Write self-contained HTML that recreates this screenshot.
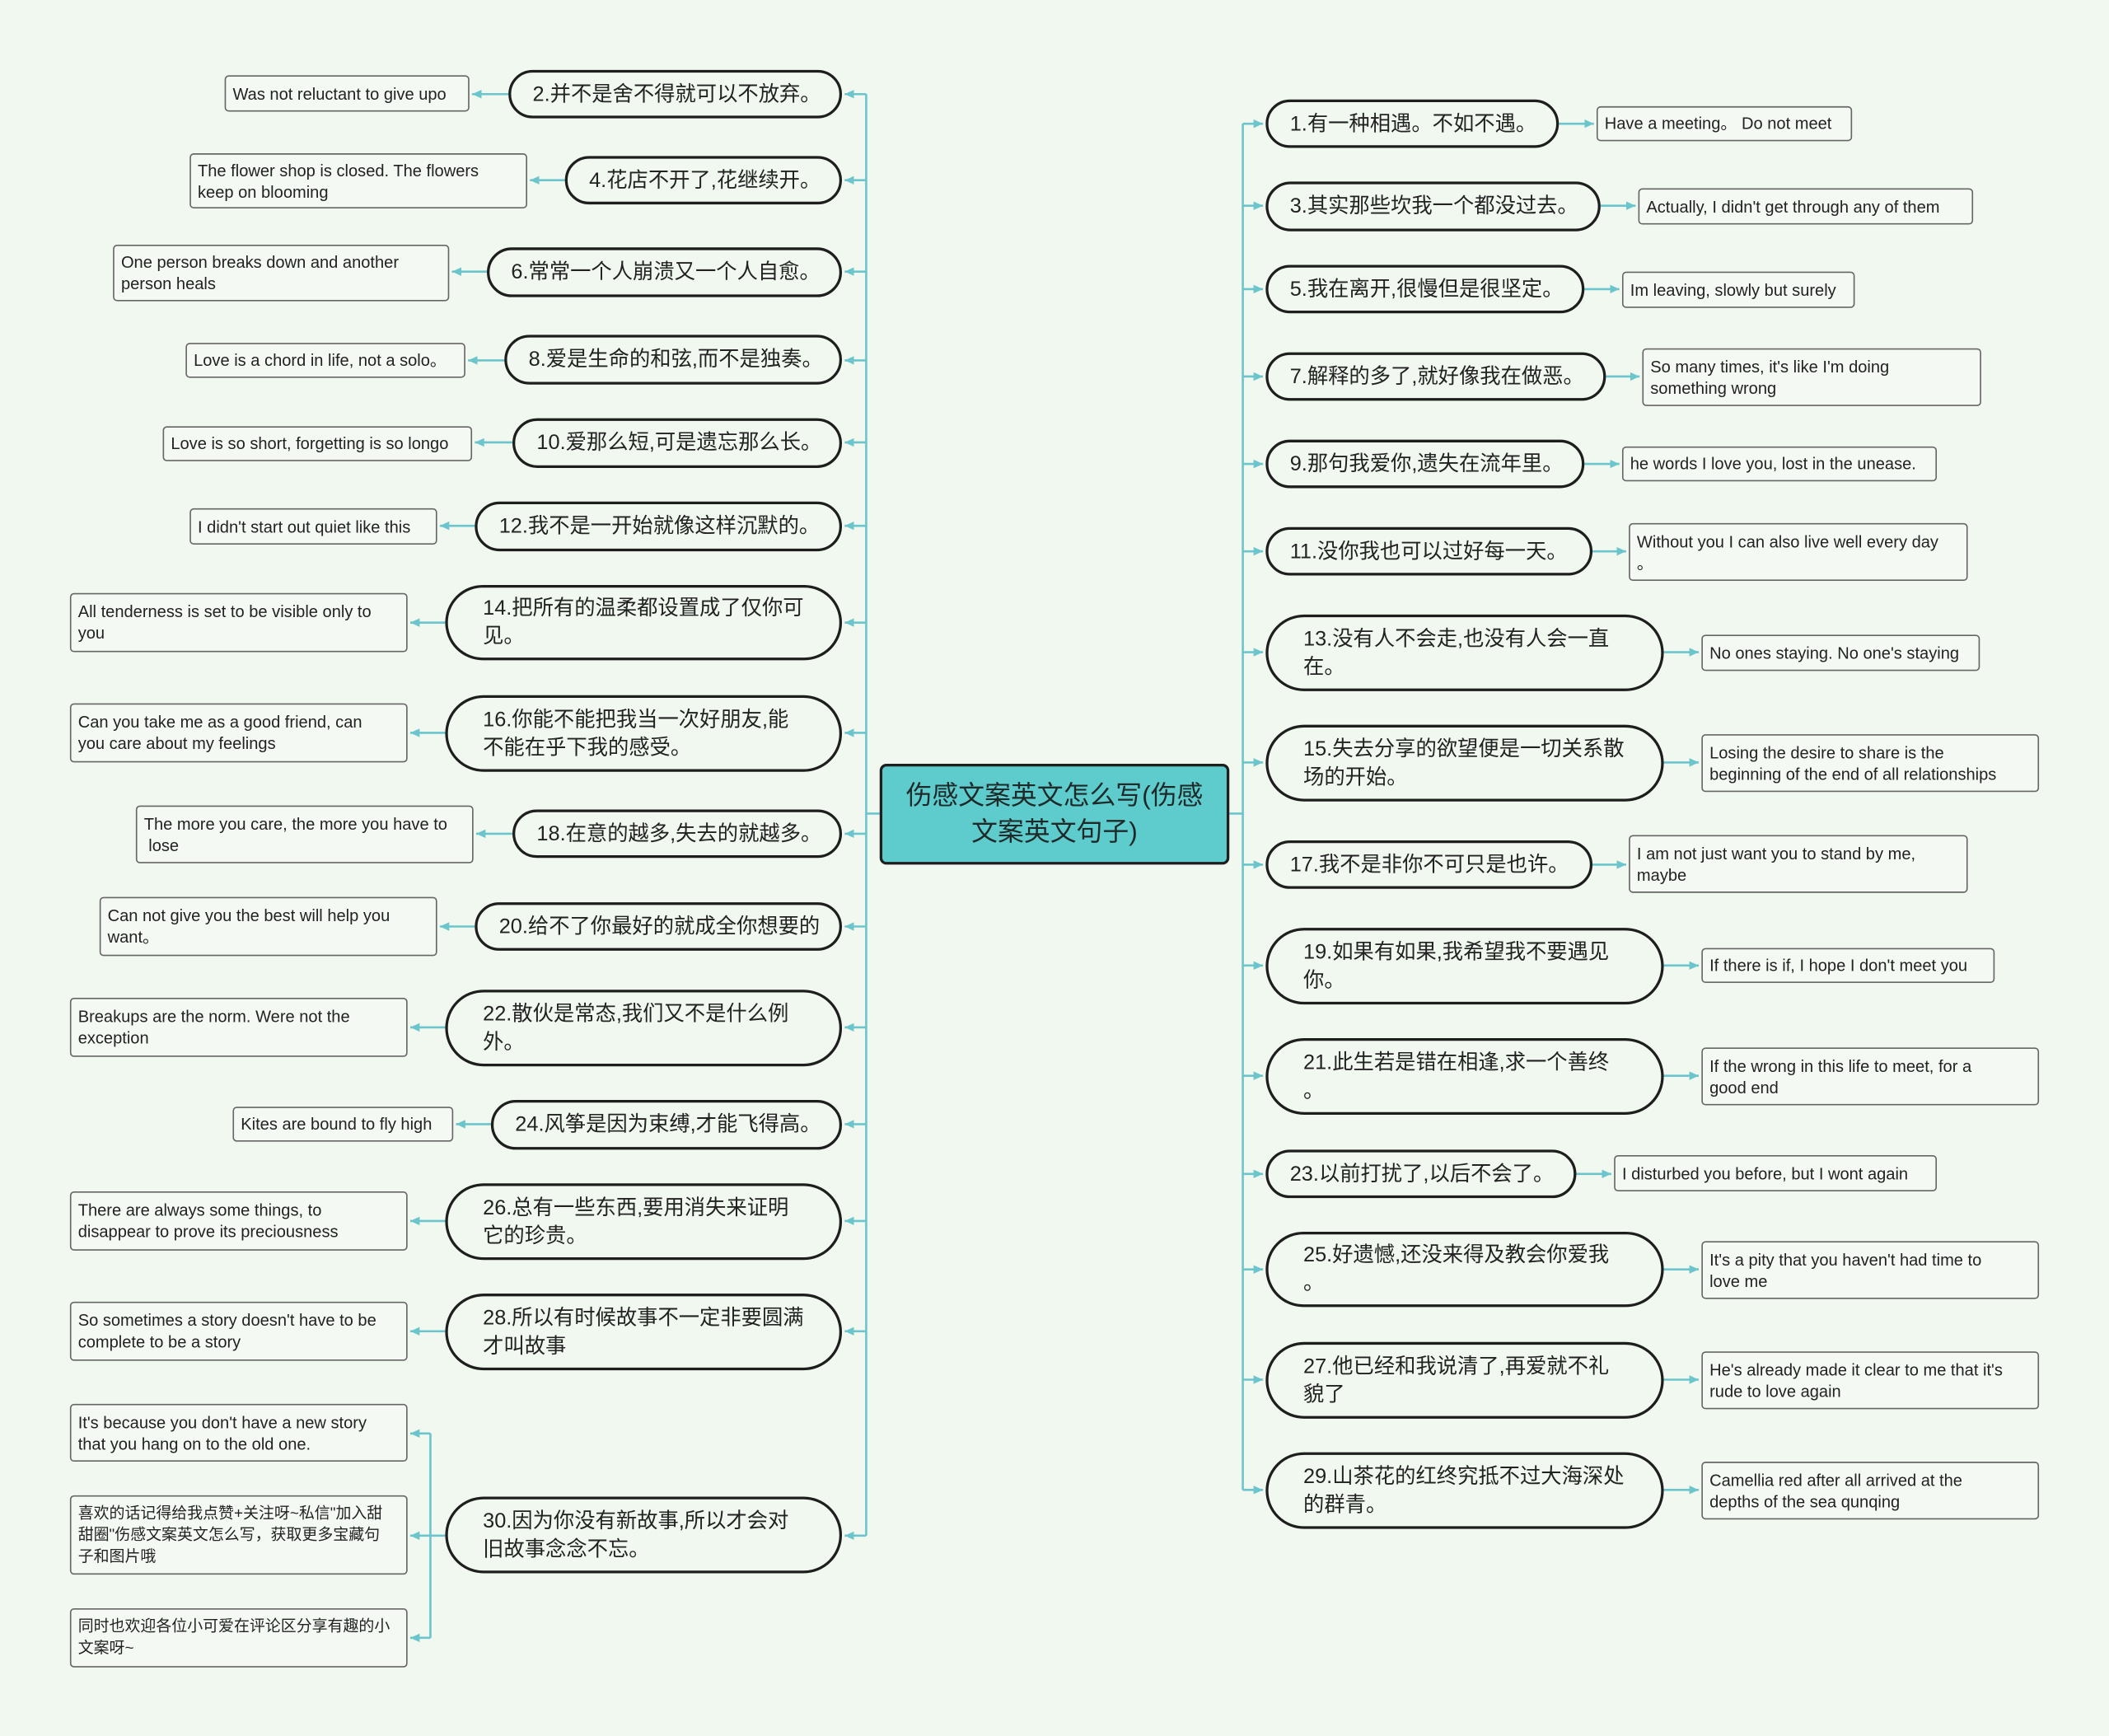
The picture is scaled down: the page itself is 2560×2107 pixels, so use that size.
<!DOCTYPE html>
<html><head><meta charset="utf-8">
<style>
html,body{margin:0;padding:0;background:#f0f8ef;}
#w{position:absolute;left:0;top:0;width:1568px;height:1291px;transform:scale(1.63265,1.63207);transform-origin:0 0;font-family:"Liberation Sans","Noto Sans CJK SC",sans-serif;}
.n{position:absolute;box-sizing:border-box;border:2px solid #1e1e1e;border-radius:30px;background:#f0f8ef;display:flex;align-items:center;font-size:15.5px;color:#222;line-height:21px;padding:0 16px;white-space:nowrap;}
.d{padding:0 26px;}
.l{position:absolute;box-sizing:border-box;border:1px solid #666;border-radius:3px;background:#f4faf3;display:flex;align-items:center;font-size:12.3px;color:#222;line-height:16px;padding:0 5px;white-space:nowrap;}
.c{position:absolute;box-sizing:border-box;border:2px solid #1e1e1e;border-radius:5px;background:#5ecbcc;display:flex;align-items:center;justify-content:center;text-align:center;font-size:19.5px;line-height:27px;color:#1e2a2a;}
svg{position:absolute;left:0;top:0;}
</style></head><body><div id="w">
<svg width="1568" height="1291">
<defs><marker id="a" markerUnits="userSpaceOnUse" markerWidth="8" markerHeight="8" refX="7" refY="4" orient="auto"><path d="M0,0.8 L7,4 L0,7.2 z" fill="#6cc5cc"/></marker></defs>
<g stroke="#6cc5cc" stroke-width="1.6" fill="none">
<path d="M644,70 V1142 M924,92 V1108 M644,605 H654 M914,605 H924 M320,1066 V1218"/>
<!-- left node arrows -->
<path marker-end="url(#a)" d="M644,70 H628"/><path marker-end="url(#a)" d="M644,134 H628"/><path marker-end="url(#a)" d="M644,202 H628"/><path marker-end="url(#a)" d="M644,268 H628"/><path marker-end="url(#a)" d="M644,329 H628"/><path marker-end="url(#a)" d="M644,391 H628"/><path marker-end="url(#a)" d="M644,463 H628"/><path marker-end="url(#a)" d="M644,545 H628"/><path marker-end="url(#a)" d="M644,620 H628"/><path marker-end="url(#a)" d="M644,689 H628"/><path marker-end="url(#a)" d="M644,764 H628"/><path marker-end="url(#a)" d="M644,836 H628"/><path marker-end="url(#a)" d="M644,908 H628"/><path marker-end="url(#a)" d="M644,990 H628"/><path marker-end="url(#a)" d="M644,1142 H628"/>
<!-- left leaf arrows -->
<path marker-end="url(#a)" d="M378,70 H351"/><path marker-end="url(#a)" d="M420,134 H394"/><path marker-end="url(#a)" d="M362,202 H336"/><path marker-end="url(#a)" d="M375,268 H348"/><path marker-end="url(#a)" d="M381,329 H353"/><path marker-end="url(#a)" d="M353,391 H327"/><path marker-end="url(#a)" d="M331,463 H305"/><path marker-end="url(#a)" d="M331,545 H305"/><path marker-end="url(#a)" d="M381,620 H354"/><path marker-end="url(#a)" d="M353,689 H327"/><path marker-end="url(#a)" d="M331,764 H305"/><path marker-end="url(#a)" d="M365,836 H339"/><path marker-end="url(#a)" d="M331,908 H305"/><path marker-end="url(#a)" d="M331,990 H305"/>
<path d="M331,1142 H320"/><path marker-end="url(#a)" d="M320,1066 H305"/><path marker-end="url(#a)" d="M320,1142 H305"/><path marker-end="url(#a)" d="M320,1218 H305"/>
<!-- right node arrows -->
<path marker-end="url(#a)" d="M924,92 H939"/><path marker-end="url(#a)" d="M924,153 H939"/><path marker-end="url(#a)" d="M924,215 H939"/><path marker-end="url(#a)" d="M924,280 H939"/><path marker-end="url(#a)" d="M924,345 H939"/><path marker-end="url(#a)" d="M924,410 H939"/><path marker-end="url(#a)" d="M924,485 H939"/><path marker-end="url(#a)" d="M924,567 H939"/><path marker-end="url(#a)" d="M924,643 H939"/><path marker-end="url(#a)" d="M924,718 H939"/><path marker-end="url(#a)" d="M924,800 H939"/><path marker-end="url(#a)" d="M924,873 H939"/><path marker-end="url(#a)" d="M924,944 H939"/><path marker-end="url(#a)" d="M924,1026 H939"/><path marker-end="url(#a)" d="M924,1108 H939"/>
<!-- right leaf arrows -->
<path marker-end="url(#a)" d="M1159,92 H1185"/><path marker-end="url(#a)" d="M1190,153 H1216"/><path marker-end="url(#a)" d="M1178,215 H1204"/><path marker-end="url(#a)" d="M1194,280 H1219"/><path marker-end="url(#a)" d="M1178,345 H1204"/><path marker-end="url(#a)" d="M1184,410 H1209"/><path marker-end="url(#a)" d="M1237,485 H1263"/><path marker-end="url(#a)" d="M1237,567 H1263"/><path marker-end="url(#a)" d="M1184,643 H1209"/><path marker-end="url(#a)" d="M1237,718 H1263"/><path marker-end="url(#a)" d="M1237,800 H1263"/><path marker-end="url(#a)" d="M1172,873 H1198"/><path marker-end="url(#a)" d="M1237,944 H1263"/><path marker-end="url(#a)" d="M1237,1026 H1263"/><path marker-end="url(#a)" d="M1237,1108 H1263"/>
</g></svg>

<div class="c" style="left:654px;top:568px;width:260px;height:75px;">伤感文案英文怎么写(伤感<br>文案英文句子)</div>

<!-- left nodes -->
<div class="n" style="left:378px;top:52px;width:248px;height:36px;">2.并不是舍不得就可以不放弃。</div>
<div class="n" style="left:420px;top:116px;width:206px;height:36px;">4.花店不开了,花继续开。</div>
<div class="n" style="left:362px;top:184px;width:264px;height:37px;">6.常常一个人崩溃又一个人自愈。</div>
<div class="n" style="left:375px;top:249px;width:251px;height:37px;">8.爱是生命的和弦,而不是独奏。</div>
<div class="n" style="left:381px;top:311px;width:245px;height:37px;">10.爱那么短,可是遗忘那么长。</div>
<div class="n" style="left:353px;top:373px;width:273px;height:37px;">12.我不是一开始就像这样沉默的。</div>
<div class="n d" style="left:331px;top:435px;width:295px;height:56px;">14.把所有的温柔都设置成了仅你可<br>见。</div>
<div class="n d" style="left:331px;top:517px;width:295px;height:57px;">16.你能不能把我当一次好朋友,能<br>不能在乎下我的感受。</div>
<div class="n" style="left:381px;top:602px;width:245px;height:36px;">18.在意的越多,失去的就越多。</div>
<div class="n" style="left:353px;top:671px;width:273px;height:36px;">20.给不了你最好的就成全你想要的</div>
<div class="n d" style="left:331px;top:736px;width:295px;height:57px;">22.散伙是常态,我们又不是什么例<br>外。</div>
<div class="n" style="left:365px;top:818px;width:261px;height:37px;">24.风筝是因为束缚,才能飞得高。</div>
<div class="n d" style="left:331px;top:880px;width:295px;height:57px;">26.总有一些东西,要用消失来证明<br>它的珍贵。</div>
<div class="n d" style="left:331px;top:962px;width:295px;height:57px;">28.所以有时候故事不一定非要圆满<br>才叫故事</div>
<div class="n d" style="left:331px;top:1113px;width:295px;height:57px;">30.因为你没有新故事,所以才会对<br>旧故事念念不忘。</div>

<!-- left leaves -->
<div class="l" style="left:167px;top:56px;width:182px;height:27px;">Was not reluctant to give upo</div>
<div class="l" style="left:141px;top:114px;width:251px;height:41px;">The flower shop is closed. The flowers<br>keep on blooming</div>
<div class="l" style="left:84px;top:182px;width:250px;height:42px;">One person breaks down and another<br>person heals</div>
<div class="l" style="left:138px;top:255px;width:208px;height:26px;">Love is a chord in life, not a solo。</div>
<div class="l" style="left:121px;top:317px;width:230px;height:26px;">Love is so short, forgetting is so longo</div>
<div class="l" style="left:141px;top:378px;width:184px;height:27px;">I didn't start out quiet like this</div>
<div class="l" style="left:52px;top:441px;width:251px;height:44px;">All tenderness is set to be visible only to<br>you</div>
<div class="l" style="left:52px;top:523px;width:251px;height:44px;">Can you take me as a good friend, can<br>you care about my feelings</div>
<div class="l" style="left:101px;top:599px;width:251px;height:43px;">The more you care, the more you have to<br>&nbsp;lose</div>
<div class="l" style="left:74px;top:667px;width:251px;height:44px;">Can not give you the best will help you<br>want。</div>
<div class="l" style="left:52px;top:742px;width:251px;height:44px;">Breakups are the norm. Were not the<br>exception</div>
<div class="l" style="left:173px;top:823px;width:164px;height:26px;">Kites are bound to fly high</div>
<div class="l" style="left:52px;top:886px;width:251px;height:44px;">There are always some things, to<br>disappear to prove its preciousness</div>
<div class="l" style="left:52px;top:968px;width:251px;height:44px;">So sometimes a story doesn't have to be<br>complete to be a story</div>
<div class="l" style="left:52px;top:1044px;width:251px;height:43px;">It's because you don't have a new story<br>that you hang on to the old one.</div>
<div class="l" style="left:52px;top:1112px;width:251px;height:59px;font-size:11.6px;">喜欢的话记得给我点赞+关注呀~私信"加入甜<br>甜圈"伤感文案英文怎么写，获取更多宝藏句<br>子和图片哦</div>
<div class="l" style="left:52px;top:1196px;width:251px;height:44px;font-size:11.6px;">同时也欢迎各位小可爱在评论区分享有趣的小<br>文案呀~</div>

<!-- right nodes -->
<div class="n" style="left:941px;top:74px;width:218px;height:36px;">1.有一种相遇。不如不遇。</div>
<div class="n" style="left:941px;top:135px;width:249px;height:37px;">3.其实那些坎我一个都没过去。</div>
<div class="n" style="left:941px;top:197px;width:237px;height:36px;">5.我在离开,很慢但是很坚定。</div>
<div class="n" style="left:941px;top:262px;width:253px;height:36px;">7.解释的多了,就好像我在做恶。</div>
<div class="n" style="left:941px;top:327px;width:237px;height:36px;">9.那句我爱你,遗失在流年里。</div>
<div class="n" style="left:941px;top:392px;width:243px;height:36px;">11.没你我也可以过好每一天。</div>
<div class="n d" style="left:941px;top:457px;width:296px;height:57px;">13.没有人不会走,也没有人会一直<br>在。</div>
<div class="n d" style="left:941px;top:539px;width:296px;height:57px;">15.失去分享的欲望便是一切关系散<br>场的开始。</div>
<div class="n" style="left:941px;top:625px;width:243px;height:36px;">17.我不是非你不可只是也许。</div>
<div class="n d" style="left:941px;top:690px;width:296px;height:57px;">19.如果有如果,我希望我不要遇见<br>你。</div>
<div class="n d" style="left:941px;top:772px;width:296px;height:57px;">21.此生若是错在相逢,求一个善终<br>。</div>
<div class="n" style="left:941px;top:855px;width:231px;height:36px;">23.以前打扰了,以后不会了。</div>
<div class="n d" style="left:941px;top:916px;width:296px;height:56px;">25.好遗憾,还没来得及教会你爱我<br>。</div>
<div class="n d" style="left:941px;top:998px;width:296px;height:57px;">27.他已经和我说清了,再爱就不礼<br>貌了</div>
<div class="n d" style="left:941px;top:1080px;width:296px;height:57px;">29.山茶花的红终究抵不过大海深处<br>的群青。</div>

<!-- right leaves -->
<div class="l" style="left:1187px;top:79px;width:190px;height:26px;">Have a meeting。 Do not meet</div>
<div class="l" style="left:1218px;top:140px;width:249px;height:27px;">Actually, I didn't get through any of them</div>
<div class="l" style="left:1206px;top:202px;width:173px;height:27px;">Im leaving, slowly but surely</div>
<div class="l" style="left:1221px;top:259px;width:252px;height:43px;">So many times, it's like I'm doing<br>something wrong</div>
<div class="l" style="left:1206px;top:332px;width:234px;height:26px;">he words I love you, lost in the unease.</div>
<div class="l" style="left:1211px;top:389px;width:252px;height:43px;">Without you I can also live well every day<br>。</div>
<div class="l" style="left:1265px;top:472px;width:207px;height:27px;">No ones staying. No one's staying</div>
<div class="l" style="left:1265px;top:546px;width:251px;height:43px;">Losing the desire to share is the<br>beginning of the end of all relationships</div>
<div class="l" style="left:1211px;top:621px;width:252px;height:43px;">I am not just want you to stand by me,<br>maybe</div>
<div class="l" style="left:1265px;top:705px;width:218px;height:26px;">If there is if, I hope I don't meet you</div>
<div class="l" style="left:1265px;top:779px;width:251px;height:43px;">If the wrong in this life to meet, for a<br>good end</div>
<div class="l" style="left:1200px;top:859px;width:240px;height:27px;">I disturbed you before, but I wont again</div>
<div class="l" style="left:1265px;top:923px;width:251px;height:43px;">It's a pity that you haven't had time to<br>love me</div>
<div class="l" style="left:1265px;top:1005px;width:251px;height:43px;">He's already made it clear to me that it's<br>rude to love again</div>
<div class="l" style="left:1265px;top:1087px;width:251px;height:43px;">Camellia red after all arrived at the<br>depths of the sea qunqing</div>
</div></body></html>
